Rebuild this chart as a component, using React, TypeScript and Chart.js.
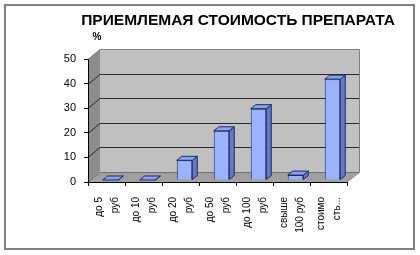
import React, { useEffect, useRef } from "react";
import { Chart, registerables } from "chart.js";

Chart.register(...registerables);

const titleText = "ПРИЕМЛЕМАЯ СТОИМОСТЬ ПРЕПАРАТА";
const unitLabel = "%";
const categories: string[][] = [
  ["до 5", "руб"],
  ["до 10", "руб"],
  ["до 20", "руб"],
  ["до 50", "руб"],
  ["до 100", "руб"],
  ["свыше", "100 руб"],
  ["стоимо", "сть..."],
];
const values: number[] = [0, 0, 8, 20, 29, 2, 41];
const yMin = 0;
const yMax = 50;
const yStep = 10;

const FONT = "'Liberation Sans', Arial, sans-serif";
const WALL_DX = 12;
const WALL_DY = 10;
const BAR_SHIFT_X = 4;
const BAR_SHIFT_Y = -2;
const BAR_DX = 5;
const BAR_DY = 4;

const threeD = {
  id: "threeD",
  beforeDraw(chart: any) {
    const { ctx, chartArea } = chart;
    const { left: L, right: R, top: T, bottom: B } = chartArea;
    const ys = chart.scales.y;
    ctx.save();
    ctx.strokeStyle = "#808080";
    ctx.lineWidth = 2;
    ctx.strokeRect(5, 5, 409, 244);
    ctx.fillStyle = "#c0c0c0";
    ctx.fillRect(L + WALL_DX, T - WALL_DY, R - L, B - T);
    ctx.fillStyle = "#8c8c8c";
    ctx.beginPath();
    ctx.moveTo(L, T);
    ctx.lineTo(L + WALL_DX, T - WALL_DY);
    ctx.lineTo(L + WALL_DX, B - WALL_DY);
    ctx.lineTo(L, B);
    ctx.closePath();
    ctx.fill();
    ctx.fillStyle = "#a0a0a0";
    ctx.beginPath();
    ctx.moveTo(L, B);
    ctx.lineTo(L + WALL_DX, B - WALL_DY);
    ctx.lineTo(R + WALL_DX, B - WALL_DY);
    ctx.lineTo(R, B);
    ctx.closePath();
    ctx.fill();
    ctx.lineWidth = 1;
    ctx.strokeStyle = "#808080";
    ctx.beginPath();
    ctx.moveTo(L + 0.5, T);
    ctx.lineTo(L + WALL_DX + 0.5, T - WALL_DY + 0.5);
    ctx.lineTo(R + WALL_DX + 0.5, T - WALL_DY + 0.5);
    ctx.lineTo(R + WALL_DX + 0.5, B - WALL_DY + 0.5);
    ctx.lineTo(R, B);
    ctx.stroke();
    ctx.strokeStyle = "#2a2a2a";
    for (let v = yMin + yStep; v <= yMax - yStep; v += yStep) {
      const py = Math.round(ys.getPixelForValue(v)) + 0.5;
      ctx.beginPath();
      ctx.moveTo(L, py);
      ctx.lineTo(L + WALL_DX, py - WALL_DY);
      ctx.lineTo(R + WALL_DX, py - WALL_DY);
      ctx.stroke();
    }
    ctx.strokeStyle = "#707070";
    ctx.beginPath();
    ctx.moveTo(L, B);
    ctx.lineTo(L + WALL_DX + 0.5, B - WALL_DY + 0.5);
    ctx.lineTo(R + WALL_DX, B - WALL_DY + 0.5);
    ctx.stroke();
    ctx.fillStyle = "#000";
    ctx.font = `bold 15.5px ${FONT}`;
    ctx.textAlign = "center";
    ctx.textBaseline = "middle";
    ctx.fillText(titleText, 238, 21);
    ctx.font = `bold 10px ${FONT}`;
    ctx.fillText(unitLabel, 97, 37);
    ctx.restore();
  },
  beforeDatasetsDraw(chart: any) {
    chart.ctx.save();
    chart.ctx.translate(BAR_SHIFT_X, BAR_SHIFT_Y);
  },
  afterDatasetsDraw(chart: any) {
    const { ctx } = chart;
    const meta = chart.getDatasetMeta(0);
    meta.data.forEach((bar: any) => {
      const { x, y, base, width } = bar.getProps(["x", "y", "base", "width"], true);
      const l = x - width / 2;
      const r = x + width / 2;
      ctx.lineWidth = 1;
      ctx.strokeStyle = "#1e2a66";
      ctx.fillStyle = "#6678c8";
      ctx.beginPath();
      ctx.moveTo(r, y);
      ctx.lineTo(r + BAR_DX, y - BAR_DY);
      ctx.lineTo(r + BAR_DX, base - BAR_DY);
      ctx.lineTo(r, base);
      ctx.closePath();
      ctx.fill();
      ctx.stroke();
      ctx.fillStyle = "#8aa2ee";
      ctx.beginPath();
      ctx.moveTo(l, y);
      ctx.lineTo(l + BAR_DX, y - BAR_DY);
      ctx.lineTo(r + BAR_DX, y - BAR_DY);
      ctx.lineTo(r, y);
      ctx.closePath();
      ctx.fill();
      ctx.stroke();
    });
    ctx.restore();
  },
};

export default function App() {
  const ref = useRef<HTMLCanvasElement | null>(null);
  useEffect(() => {
    document.body.style.margin = "0";
    document.body.style.overflow = "hidden";
    const canvas = ref.current;
    if (!canvas) return;
    const chart = new Chart(canvas, {
      type: "bar",
      data: {
        labels: categories,
        datasets: [
          {
            data: values,
            backgroundColor: "#99b3ff",
            borderColor: "#1e2a66",
            borderWidth: 1,
            barPercentage: 0.42,
            categoryPercentage: 1,
          },
        ],
      },
      options: {
        responsive: false,
        devicePixelRatio: 1,
        animation: false,
        events: [],
        layout: { padding: { top: 59, right: 73, bottom: 0, left: 0 } },
        plugins: {
          legend: { display: false },
          tooltip: { enabled: false },
          title: { display: false },
        },
        scales: {
          x: {
            type: "category",
            afterFit: (s: any) => {
              s.height = 73;
            },
            grid: {
              display: true,
              drawOnChartArea: false,
              drawTicks: true,
              tickLength: 4,
              color: "#000",
              offset: true,
            },
            border: { display: true, color: "#000", width: 1 },
            ticks: {
              autoSkip: false,
              minRotation: 90,
              maxRotation: 90,
              padding: 11,
              labelOffset: -7,
              color: "#000",
              font: { family: FONT, size: 10, lineHeight: 1.6 },
            },
          },
          y: {
            min: yMin,
            max: yMax,
            afterFit: (s: any) => {
              s.width = 88;
            },
            grid: {
              display: true,
              drawOnChartArea: false,
              drawTicks: true,
              tickLength: 4,
              color: "#000",
            },
            border: { display: true, color: "#000", width: 1 },
            ticks: {
              stepSize: yStep,
              padding: 8,
              color: "#000",
              font: { family: FONT, size: 11 },
            },
          },
        },
      },
      plugins: [threeD],
    });
    return () => chart.destroy();
  }, []);
  return <canvas ref={ref} width={420} height={255} style={{ display: "block" }} />;
}
